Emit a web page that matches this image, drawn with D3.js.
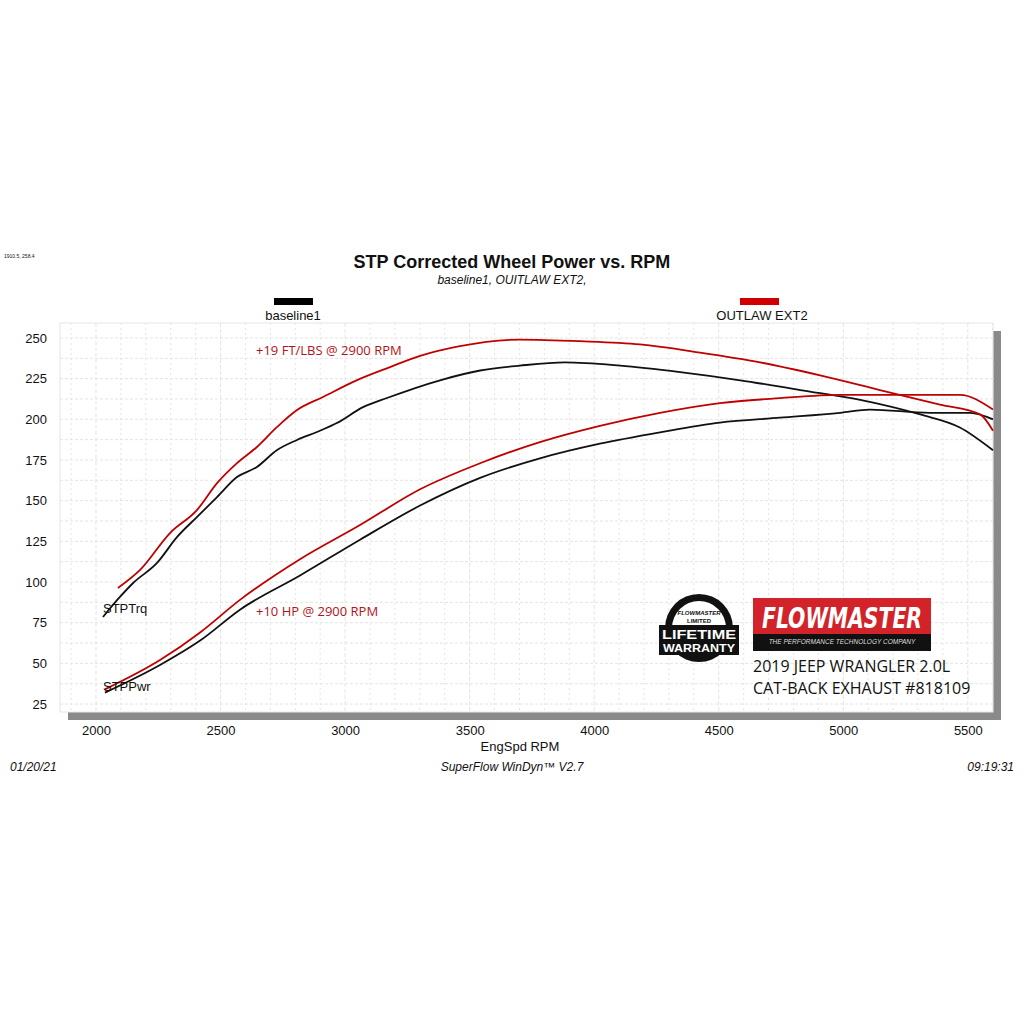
<!DOCTYPE html>
<html><head><meta charset="utf-8">
<script src="https://cdn.jsdelivr.net/npm/d3@7"></script>
<style>body{margin:0;background:#fff}svg{display:block}</style></head>
<body><svg id="c" width="1024" height="1024"></svg>
<script>
const yTicks=[25,50,75,100,125,150,175,200,225,250];
const xTicks=[2000,2500,3000,3500,4000,4500,5000,5500];
const baseTrqRpm=[2028,2096,2149,2245,2325,2405,2486,2566,2646,2727,2807,2887,2967,3072,3168,3381,3542,3702,3883,4104,4345,4586,4827,5068,5309,5468,5601];
const baseTrq=[78.5,90.8,99.4,111.7,127.6,139.9,152.2,164.5,170.7,181.1,187.3,192.2,197.7,207.5,213.1,224,230,233,235,233,229,224,218,212,203,195,181];
const outTrqRpm=[2088,2177,2297,2405,2486,2566,2646,2727,2807,2911,3048,3180,3301,3461,3702,3943,4184,4425,4666,4907,5147,5388,5549,5601];
const outTrq=[96.3,107.4,130.1,144.2,160.8,173.1,183,195.3,205.7,213.7,224.1,232.1,239,245,249,248,246,241,235,227,218,209,203,193];
const basePwrRpm=[2036,2257,2418,2578,2819,3060,3301,3542,3782,4023,4264,4505,4746,4987,5107,5348,5509,5601];
const basePwr=[32,49,64,83,104,126,147,164,176,185,192,198,201,204,206,204,204,200];
const outPwrRpm=[2036,2257,2418,2578,2819,3060,3301,3542,3782,4023,4264,4505,4746,4987,5228,5468,5601];
const outPwr=[34,52,69,89,114,135,157,173,186,196,204,210,213,215,215,215,206];

const svg=d3.select("#c");
const L=60,R=993,T=323,B=712;
const x=d3.scaleLinear().domain([1855.5,5601]).range([L,R]);
const y=d3.scaleLinear().domain([20.1,259.2]).range([B,T]);
svg.append("rect").attr("x",L+8).attr("y",T+8).attr("width",R-L).attr("height",B-T).attr("fill","#8a8a8a");
svg.append("rect").attr("x",L).attr("y",T).attr("width",R-L).attr("height",B-T).attr("fill","#fff").attr("stroke","#e6e6e6");
const g=svg.append("g");
for(let v=1900;v<=5600;v+=100) g.append("line").attr("x1",x(v)).attr("x2",x(v)).attr("y1",T).attr("y2",B).attr("stroke","#e4e4e4").attr("stroke-dasharray",v%500==0?"4,2":"2,3");
for(let v=25;v<=255;v+=12.5) g.append("line").attr("x1",L).attr("x2",R).attr("y1",y(v)).attr("y2",y(v)).attr("stroke","#e4e4e4").attr("stroke-dasharray","3,2");
const ax=svg.append("g").attr("transform",`translate(0,${B+8})`).call(d3.axisBottom(x).tickValues(xTicks).tickFormat(d3.format("d")).tickSize(0).tickPadding(6));
ax.select(".domain").remove();
ax.selectAll("text").attr("font-family","Liberation Sans, Arial").attr("font-size",13).attr("fill","#111");
const ay=svg.append("g").attr("transform",`translate(${L},0)`).call(d3.axisLeft(y).tickValues(yTicks).tickSize(0).tickPadding(13));
ay.select(".domain").remove();
ay.selectAll("text").attr("font-family","Liberation Sans, Arial").attr("font-size",13).attr("fill","#111");
const line=d3.line().curve(d3.curveMonotoneX);
function draw(r,v,c){svg.append("path").attr("d",line(r.map((d,i)=>[x(d),y(v[i])]))).attr("fill","none").attr("stroke",c).attr("stroke-width",1.8);}
draw(baseTrqRpm,baseTrq,"#111");draw(basePwrRpm,basePwr,"#111");
draw(outTrqRpm,outTrq,"#c00000");draw(outPwrRpm,outPwr,"#c00000");
const t=(tx,ty,s,o)=>{const e=svg.append("text").attr("x",tx).attr("y",ty).text(s).attr("font-family","Liberation Sans, Arial").attr("font-size",13).attr("fill","#111");if(o)for(const k in o)e.attr(k,o[k]);return e;};
t(512,268,"STP Corrected Wheel Power vs. RPM",{"text-anchor":"middle","font-size":18,"font-weight":"bold"});
t(512,284,"baseline1, OUITLAW EXT2,",{"text-anchor":"middle","font-size":12,"font-style":"italic"});
t(4,258,"1910.5, 258.4",{"font-size":5});
svg.append("rect").attr("x",274).attr("y",298).attr("width",39).attr("height",7).attr("fill","#000");
t(293,320,"baseline1",{"text-anchor":"middle"});
svg.append("rect").attr("x",740).attr("y",298).attr("width",39).attr("height",7).attr("fill","#d00000");
t(762,320,"OUTLAW EXT2",{"text-anchor":"middle"});
t(103,613,"STPTrq");t(103,691,"STPPwr");
t(256,355,"+19 FT/LBS @ 2900 RPM",{"fill":"#b3121b","font-family":"Open Sans, Lato","font-size":13});
t(256,616,"+10 HP @ 2900 RPM",{"fill":"#b3121b","font-family":"Open Sans, Lato","font-size":13});
t(520,751,"EngSpd  RPM",{"text-anchor":"middle"});
t(10,771,"01/20/21",{"font-style":"italic","font-size":12});
t(512,771,"SuperFlow WinDyn™  V2.7",{"text-anchor":"middle","font-style":"italic","font-size":12});
t(1014,771,"09:19:31",{"text-anchor":"end","font-style":"italic","font-size":12});
svg.append("rect").attr("x",753).attr("y",598).attr("width",178).attr("height",53).attr("fill","#111");
svg.append("rect").attr("x",753).attr("y",598).attr("width",178).attr("height",36).attr("fill","#d2232a");
t(842,628,"FLOWMASTER",{"text-anchor":"middle","font-size":28,"font-weight":"bold","font-style":"italic","fill":"#fff","font-family":"DejaVu Sans Condensed, Liberation Sans Narrow","textLength":160,"lengthAdjust":"spacingAndGlyphs"});
t(842,644,"THE PERFORMANCE TECHNOLOGY COMPANY",{"text-anchor":"middle","font-size":6.5,"font-style":"italic","fill":"#ddd"});
t(753,672,"2019 JEEP WRANGLER 2.0L",{"font-family":"Open Sans, Lato","font-size":16});
t(753,694,"CAT-BACK EXHAUST #818109",{"font-family":"Open Sans, Lato","font-size":16});
svg.append("circle").attr("cx",699).attr("cy",628).attr("r",34).attr("fill","#111");
svg.append("circle").attr("cx",699).attr("cy",628).attr("r",27).attr("fill","#fff");
svg.append("rect").attr("x",659).attr("y",625).attr("width",80).attr("height",30).attr("fill","#111");
t(699,615,"FLOWMASTER",{"text-anchor":"middle","font-size":6,"font-style":"italic","font-weight":"bold"});
t(699,623,"LIMITED",{"text-anchor":"middle","font-size":6,"font-weight":"bold"});
t(699,639,"LIFETIME",{"text-anchor":"middle","font-size":13,"font-weight":"bold","fill":"#fff","textLength":74,"lengthAdjust":"spacingAndGlyphs"});
t(699,652,"WARRANTY",{"text-anchor":"middle","font-size":11,"font-weight":"bold","fill":"#fff","textLength":72,"lengthAdjust":"spacingAndGlyphs"});
</script></body></html>
